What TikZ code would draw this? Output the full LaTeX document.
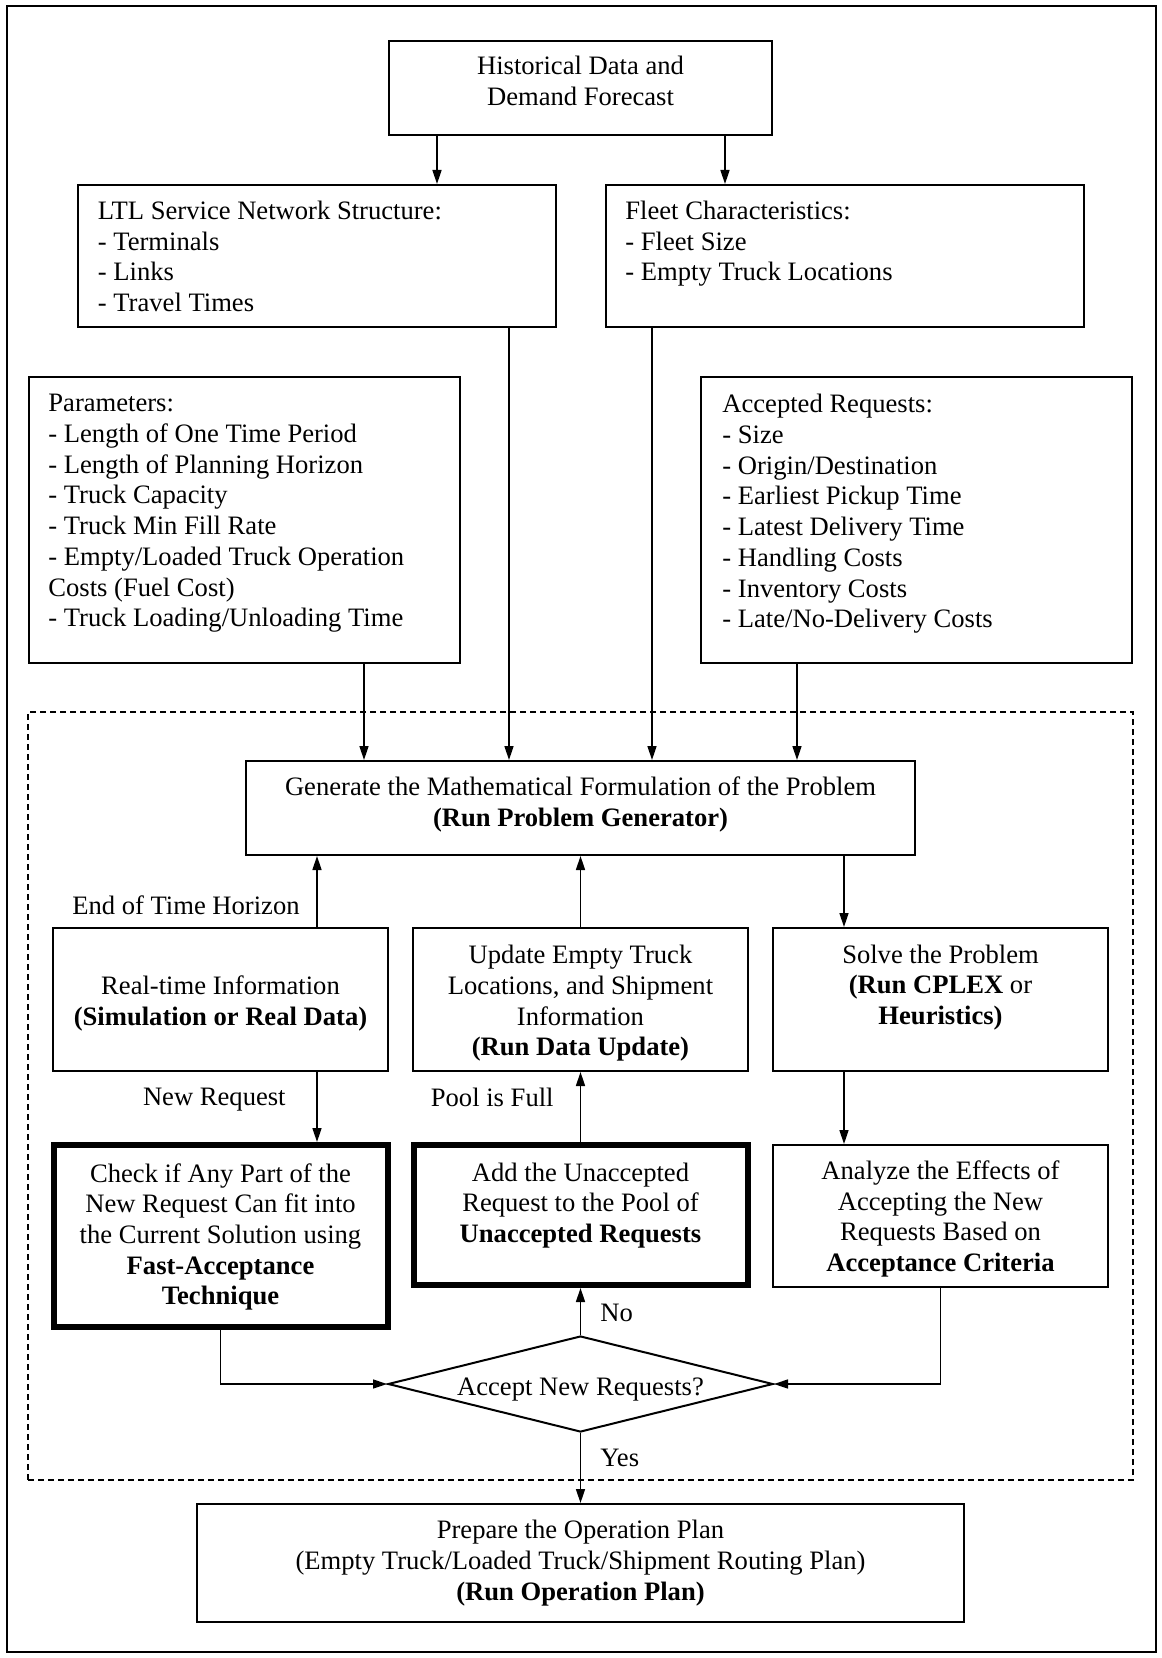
\documentclass[tikz,border=0pt]{standalone}
\usepackage{fontspec}
\setmainfont{Liberation Serif}
\usetikzlibrary{arrows.meta,shapes.geometric}
\begin{document}
\begin{tikzpicture}[x=0.5pt,y=-0.5pt,
  font=\fontsize{13.3pt}{15.35pt}\selectfont,
  box/.style={draw, line width=1pt, inner sep=0pt, rectangle},
  thickbox/.style={draw, line width=3pt, inner sep=0pt, rectangle},
  txt/.style={inner sep=0pt, align=center},
  lst/.style={inner sep=0pt, align=left, anchor=north west},
  lbl/.style={inner sep=0pt},
  arr/.style={line width=0.8pt, -{Triangle[length=7pt,width=4.5pt]}},
  frame/.style={draw, line width=1pt, dash pattern=on 3pt off 2pt, inner sep=0pt}
]
\useasboundingbox (0,0) rectangle (1161,1658);
\node[box, minimum width=574.5pt, minimum height=823pt] (outer) at (581.5,829) {};

\node[box, minimum width=191.5pt, minimum height=47pt] (hist) at (580.5,88) {};
\node[txt] (histt) at (580.5,81) {Historical Data and\\Demand Forecast};

\node[box, minimum width=239pt, minimum height=71pt] (ltl) at (317,256) {};
\node[lst] (ltlt) at (97.5,200.5) {LTL Service Network Structure:\\- Terminals\\- Links\\- Travel Times};
\node[box, minimum width=239pt, minimum height=71pt] (fleet) at (845,256) {};
\node[lst] (fleett) at (625,200.5) {Fleet Characteristics:\\- Fleet Size\\- Empty Truck Locations};

\node[box, minimum width=215.5pt, minimum height=143pt] (param) at (244.5,520) {};
\node[lst] (paramt) at (48,394) {Parameters:\\- Length of One Time Period\\- Length of Planning Horizon\\- Truck Capacity\\- Truck Min Fill Rate\\- Empty/Loaded Truck Operation\\Costs (Fuel Cost)\\- Truck Loading/Unloading Time};
\node[box, minimum width=215.5pt, minimum height=143pt] (accept) at (916.5,520) {};
\node[lst] (acceptt) at (722,394) {Accepted Requests:\\- Size\\- Origin/Destination\\- Earliest Pickup Time\\- Latest Delivery Time\\- Handling Costs\\- Inventory Costs\\- Late/No-Delivery Costs};

\node[frame, minimum width=552.5pt, minimum height=384pt] (loop) at (580.5,1096) {};

\node[box, minimum width=334.5pt, minimum height=47pt] (gen) at (580.5,808) {};
\node[txt] (gent) at (580.5,804.5) {Generate the Mathematical Formulation of the Problem\\\textbf{(Run Problem Generator)}};

\node[box, minimum width=167.5pt, minimum height=71.5pt] (rt) at (220.5,999.5) {};
\node[txt] (rtt) at (220.5,1003.5) {Real-time Information\\\textbf{(Simulation or Real Data)}};
\node[box, minimum width=167.5pt, minimum height=71.5pt] (upd) at (580.5,999.5) {};
\node[txt] (updt) at (580.5,1003.5) {Update Empty Truck\\Locations, and Shipment\\Information\\\textbf{(Run Data Update)}};
\node[box, minimum width=167.5pt, minimum height=71.5pt] (solve) at (940.5,999.5) {};
\node[txt] (solvet) at (940.5,987.5) {Solve the Problem\\\textbf{(Run CPLEX} or\\\textbf{Heuristics)}};

\node[thickbox, minimum width=167pt, minimum height=91pt] (check) at (220.5,1236) {};
\node[txt] (checkt) at (220.5,1237) {Check if Any Part of the\\New Request Can fit into\\the Current Solution using\\\textbf{Fast-Acceptance}\\\textbf{Technique}};
\node[thickbox, minimum width=167pt, minimum height=70pt] (add) at (580.5,1215) {};
\node[txt] (addt) at (580.5,1205.5) {Add the Unaccepted\\Request to the Pool of\\\textbf{Unaccepted Requests}};
\node[box, minimum width=167.5pt, minimum height=71pt] (analyze) at (940.5,1216) {};
\node[txt] (analyzet) at (940.5,1219) {Analyze the Effects of\\Accepting the New\\Requests Based on\\\textbf{Acceptance Criteria}};

\node[draw, diamond, line width=1pt, inner sep=0pt, aspect=4, minimum width=192.5pt, minimum height=48pt] (dia) at (580.5,1384) {};
\node[txt] (diat) at (580.5,1389.5) {Accept New Requests?};

\node[box, minimum width=383.5pt, minimum height=59pt] (op) at (580.5,1563) {};
\node[txt] (opt) at (580.5,1563) {Prepare the Operation Plan\\(Empty Truck/Loaded Truck/Shipment Routing Plan)\\\textbf{(Run Operation Plan)}};

\node[lbl, anchor=east] (eoth) at (300,905) {End of Time Horizon};
\node[lbl, anchor=east] (newreq) at (286,1099.5) {New Request};
\node[lbl, anchor=east] (pool) at (554,1097) {Pool is Full};
\node[lbl, anchor=west] (no) at (600,1313) {No};
\node[lbl, anchor=west] (yes) at (600,1458) {Yes};

\draw[arr] (437,0 |- hist.south) -- (437,0 |- ltl.north);
\draw[arr] (725,0 |- hist.south) -- (725,0 |- fleet.north);
\draw[arr] (509,0 |- ltl.south) -- (509,0 |- gen.north);
\draw[arr] (652,0 |- fleet.south) -- (652,0 |- gen.north);
\draw[arr] (364,0 |- param.south) -- (364,0 |- gen.north);
\draw[arr] (797,0 |- accept.south) -- (797,0 |- gen.north);
\draw[arr] (317,0 |- rt.north) -- (317,0 |- gen.south);
\draw[arr] (upd.north) -- (gen.south);
\draw[arr] (844,0 |- gen.south) -- (844,0 |- solve.north);
\draw[arr] (317,0 |- rt.south) -- (317,0 |- check.north);
\draw[arr] (add.north) -- (upd.south);
\draw[arr] (844,0 |- solve.south) -- (844,0 |- analyze.north);
\draw[arr] (check.south) |- (dia.west);
\draw[arr] (analyze.south) |- (dia.east);
\draw[arr] (dia.north) -- (add.south);
\draw[arr] (dia.south) -- (op.north);
\end{tikzpicture}
\end{document}
